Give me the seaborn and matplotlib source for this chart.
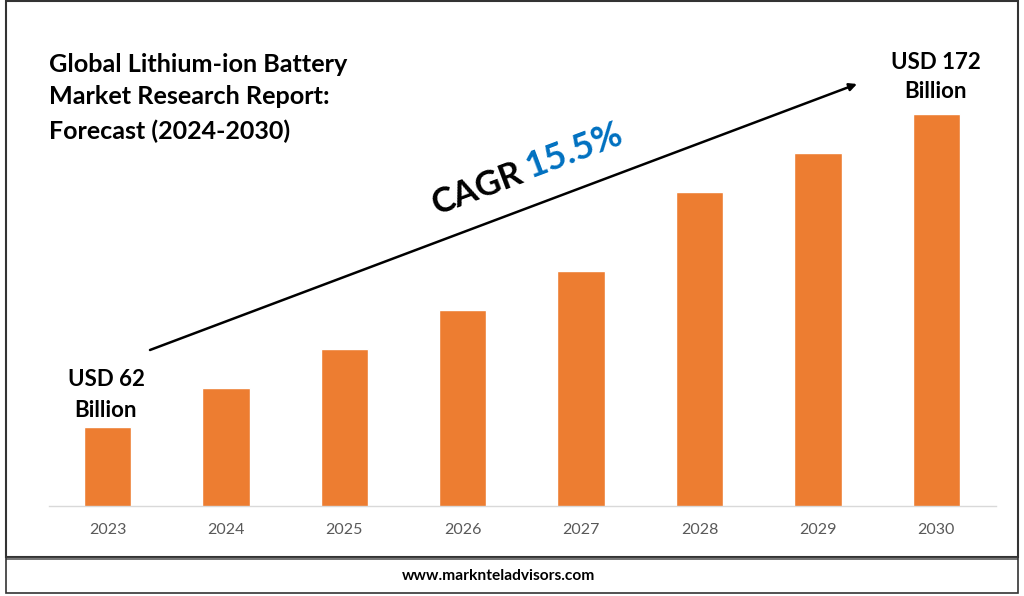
import pandas as pd
import matplotlib
matplotlib.use('Agg')
import matplotlib.pyplot as plt
from matplotlib.patches import Rectangle
import seaborn as sns

years = ['2023', '2024', '2025', '2026', '2027', '2028', '2029', '2030']
market_size = [62, 75.7, 89.4, 103.1, 116.8, 144.6, 158.3, 172]

W, H = 1024, 596


def fx(px):
    return px / W


def fy(py):
    return 1 - py / H


sns.set_theme(style='white')
plt.rcParams['font.family'] = ['Lato', 'DejaVu Sans']

fig = plt.figure(figsize=(W / 100, H / 100), dpi=100, facecolor='white')
ax = fig.add_axes([fx(49), fy(506), (996 - 49) / W, (506 - 60) / H])

df = pd.DataFrame({'year': years, 'size': market_size})
sns.barplot(data=df, x='year', y='size', color='#ED7D31', saturation=1, width=0.4, ax=ax)

# axis does not start at zero in the original
ax.set_xlim(-0.495, 7.505)
per_px = (172 - 62) / (391.6 - 78.6)
ax.set_ylim(62 - 78.6 * per_px, 62 - 78.6 * per_px + 446 * per_px)
ax.set_xlabel('')
ax.set_ylabel('')
ax.set_yticks([])
for side in ['top', 'left', 'right']:
    ax.spines[side].set_visible(False)
ax.spines['bottom'].set_color('#D9D9D9')
ax.spines['bottom'].set_linewidth(1)
ax.tick_params(axis='x', length=0, pad=12, labelsize=11.5, labelcolor='#595959')

# frame and footer
fig.add_artist(Rectangle((fx(6), fy(557)), (1018 - 6) / W, (557 - 1) / H, fill=False,
                         edgecolor='#333333', linewidth=1.5, transform=fig.transFigure))
fig.add_artist(Rectangle((fx(6), fy(560)), (1018 - 6) / W, 3 / H, facecolor='#777777',
                         edgecolor='none', transform=fig.transFigure))
fig.add_artist(Rectangle((fx(6), fy(593)), (1018 - 6) / W, (593 - 557) / H, fill=False,
                         edgecolor='#333333', linewidth=1.2, transform=fig.transFigure))
fig.text(fx(499), fy(576), 'www.marknteladvisors.com', ha='center', va='center',
         fontsize=11.2, fontweight='bold', color='black')

fig.text(fx(49), fy(64), 'Global Lithium-ion Battery', ha='left', va='center',
         fontsize=18.2, fontweight='bold', color='black')
fig.text(fx(49), fy(97), 'Market Research Report:', ha='left', va='center',
         fontsize=18.2, fontweight='bold', color='black')
fig.text(fx(49), fy(131), 'Forecast (2024-2030)', ha='left', va='center',
         fontsize=18, fontweight='bold', color='black')

fig.text(fx(106), fy(395), 'USD 62\nBillion', ha='center', va='center', fontsize=16,
         fontweight='bold', color='black', linespacing=1.6)
fig.text(fx(936), fy(77), 'USD 172\nBillion', ha='center', va='center', fontsize=16,
         fontweight='bold', color='black', linespacing=1.45)

ax.annotate('', xy=(fx(857), fy(84)), xytext=(fx(150), fy(350)),
            xycoords='figure fraction', textcoords='figure fraction',
            arrowprops=dict(arrowstyle='-|>', color='black', lw=1.8, mutation_scale=11,
                            shrinkA=0, shrinkB=0))

fig.text(fx(477), fy(189), 'CAGR', ha='center', va='center', rotation=20.6,
         rotation_mode='anchor', fontsize=25, fontweight='bold', color='black')
fig.text(fx(574), fy(150), '15.5%', ha='center', va='center', rotation=20.6,
         rotation_mode='anchor', fontsize=26, fontweight='bold', color='#0070C0')

fig.savefig('out.png', dpi=100)
